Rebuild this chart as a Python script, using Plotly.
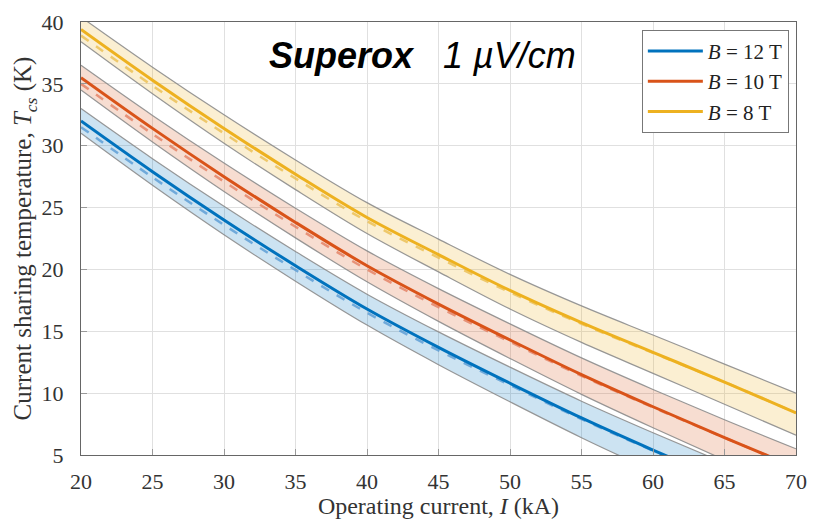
import plotly.graph_objects as go

current = [20, 25, 30, 35, 40, 45, 50, 55, 60, 65, 70]

t_12 = [32.0, 27.9, 24.0, 20.3, 16.8, 13.7, 10.8, 8.0, 5.4, 2.9, 0.5]
t_10 = [35.5, 31.4, 27.5, 23.8, 20.3, 17.2, 14.3, 11.5, 8.9, 6.4, 4.0]
t_8 = [39.4, 35.3, 31.4, 27.7, 24.2, 21.2, 18.3, 15.7, 13.3, 10.9, 8.4]

t_12_dash = [31.5, 27.45, 23.6, 19.95, 16.5, 13.45, 10.65, 7.9, 5.35, 2.9, 0.5]
t_10_dash = [35.0, 30.95, 27.1, 23.45, 20.0, 16.95, 14.15, 11.4, 8.85, 6.4, 4.0]
t_8_dash = [38.9, 34.85, 31.0, 27.35, 23.9, 20.95, 18.15, 15.6, 13.25, 10.9, 8.4]

t_12_hi = [33.0, 28.95, 25.1, 21.45, 18.0, 14.95, 12.1, 9.35, 6.8, 4.35, 2.0]
t_12_lo = [31.0, 26.8, 22.8, 19.05, 15.5, 12.3, 9.3, 6.4, 3.7, 1.1, -1.4]
t_10_hi = [36.5, 32.45, 28.6, 24.95, 21.5, 18.45, 15.6, 12.85, 10.3, 7.85, 5.5]
t_10_lo = [34.5, 30.3, 26.3, 22.55, 19.0, 15.8, 12.8, 9.9, 7.2, 4.6, 2.1]
t_8_hi = [40.4, 36.35, 32.5, 28.85, 25.4, 22.45, 19.6, 17.05, 14.7, 12.35, 10.0]
t_8_lo = [38.4, 34.2, 30.2, 26.45, 22.9, 19.8, 16.8, 14.1, 11.6, 9.1, 6.6]

labels = ["<i>B</i> = 12 T", "<i>B</i> = 10 T", "<i>B</i> = 8 T"]
x_ticks = [20, 25, 30, 35, 40, 45, 50, 55, 60, 65, 70]
y_ticks = [5, 10, 15, 20, 25, 30, 35, 40]

series = [
    (labels[0], t_12, t_12_dash, t_12_hi, t_12_lo, "#0072BD", "rgba(0,114,189,0.2)", "rgba(80,150,210,0.75)"),
    (labels[1], t_10, t_10_dash, t_10_hi, t_10_lo, "#D95319", "rgba(217,83,25,0.2)", "rgba(225,120,90,0.75)"),
    (labels[2], t_8, t_8_dash, t_8_hi, t_8_lo, "#EDB120", "rgba(237,177,32,0.2)", "rgba(235,190,80,0.8)"),
]

fig = go.Figure()
serif = "Liberation Serif, DejaVu Serif, serif"
edge = dict(color="rgba(140,140,140,0.9)", width=1.2, shape="spline")

for name, solid, dash, hi, lo, col, fillc, dcol in series:
    fig.add_trace(go.Scatter(x=current, y=lo, mode="lines", line=edge,
                             showlegend=False, hoverinfo="skip"))
    fig.add_trace(go.Scatter(x=current, y=hi, mode="lines", line=edge,
                             fill="tonexty", fillcolor=fillc,
                             showlegend=False, hoverinfo="skip"))
for name, solid, dash, hi, lo, col, fillc, dcol in series:
    fig.add_trace(go.Scatter(
        x=current, y=dash, mode="lines", showlegend=False,
        line=dict(color=dcol, width=2.5, dash="dash", shape="spline")))
    fig.add_trace(go.Scatter(
        x=current, y=solid, mode="lines", name=name,
        line=dict(color=col, width=3, shape="spline")))

fig.add_annotation(
    x=0.477, y=0.923, xref="paper", yref="paper", showarrow=False,
    xanchor="center", yanchor="middle",
    text="<b><i>Superox</i></b>&nbsp;&nbsp;&nbsp;<i>1 µV/cm</i>",
    font=dict(family="Liberation Sans, Arial, sans-serif", size=36, color="black"))

axis_common = dict(
    showline=True, mirror=True, linecolor="#666", linewidth=1.2,
    showgrid=True, gridcolor="#e0e0e0", gridwidth=1,
    ticks="inside", ticklen=6, tickcolor="#999",
    tickfont=dict(family=serif, size=22, color="#333"),
    zeroline=False,
)

fig.update_layout(
    width=817, height=524,
    margin=dict(l=81, r=10, t=16, b=64),
    plot_bgcolor="white", paper_bgcolor="white",
    xaxis=dict(range=[20, 70], tickvals=x_ticks, ticklabelstandoff=6,
               title=dict(text="Operating current, <i>I</i> (kA)", font=dict(family=serif, size=24, color="#333"), standoff=4),
               **axis_common),
    yaxis=dict(range=[5, 40], tickvals=y_ticks, ticklabelstandoff=12,
               title=dict(text="Current sharing temperature, <i>T<sub>cs</sub></i> (K)", font=dict(family=serif, size=25, color="#333"), standoff=2),
               **axis_common),
    legend=dict(x=0.99, y=0.982, xanchor="right", yanchor="top",
                traceorder="normal",
                bgcolor="white", bordercolor="#777", borderwidth=1,
                font=dict(family=serif, size=21, color="#222"),
                tracegroupgap=0, itemwidth=55),
    showlegend=True,
)

fig.write_html("out.html")
